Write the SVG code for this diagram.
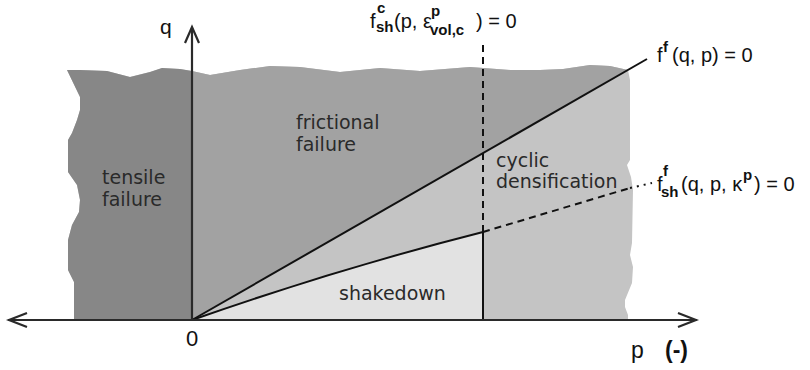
<svg xmlns="http://www.w3.org/2000/svg" width="810" height="370" viewBox="0 0 810 370">
<style>
.lbl{font-family:"DejaVu Sans","Liberation Sans",sans-serif;font-size:19px;fill:#2a2a2a}
.fm{font-family:"Liberation Sans","DejaVu Sans",sans-serif;font-size:20px;fill:#111}
.sb{font-size:15px;font-weight:bold}
.ln{stroke:#111;stroke-width:2;fill:none}
.ax{stroke:#2a2a2a;stroke-width:2.2;fill:none}
.dash{stroke:#111;stroke-width:2;fill:none;stroke-dasharray:7 5}
</style>
<defs>
<clipPath id="blob">
<path d="M67,70 L80,70 L107,71 L130,77 L150,72 L162,68 L180,69 L192,71 L210,75 L240,70 L270,66 L300,67 L340,72 L380,68 L420,71 L470,67 L510,70 L540,70 L563,69 L590,65 L610,66 L628,70 L630,80 L630,160 L627,165 L631,177 L633,190 L632,243 L630,255 L633,267 L632,283 L625,300 L625,307 L628,315 L628,320 L74,320 L74,282 L68,270 L68,240 L72,225 L79,212 L80,200 L77,185 L68,172 L68,140 L72,133 L77,120 L80,110 L80,97 Z"/>
</clipPath>
</defs>
<g id="regions" clip-path="url(#blob)">
<rect x="0" y="0" width="810" height="370" fill="#c4c4c4"/>
<polygon id="frictional-region" points="192,320 700,28 700,0 192,0" fill="#a2a2a2"/>
<rect id="tensile-region" x="0" y="0" width="192" height="320" fill="#878787"/>
<path id="shakedown-region" d="M192,320 Q337,269 483,232 L483,320 Z" fill="#e2e2e2"/>
</g>
<g id="connectors">
<line class="ln" x1="192" y1="320" x2="647" y2="59"/>
<path class="ln" d="M192,320 Q337,269 483,232"/>
<line class="dash" x1="483" y1="232" x2="630" y2="188"/>
<line class="ln" x1="630" y1="188" x2="652" y2="183" stroke-dasharray="2 5"/>
<line class="ln" x1="483" y1="320" x2="483" y2="232"/>
<line class="dash" x1="483" y1="232" x2="483" y2="42"/>
<line class="ax" x1="192" y1="320" x2="192" y2="28"/>
<polyline class="ax" points="185,43 192,27 199,43"/>
<line class="ax" x1="8" y1="320" x2="697" y2="320"/>
<polyline class="ax" points="27,313 9,320 27,327"/>
<polyline class="ax" points="678,313 696,320 678,327"/>
</g>
<g id="tensile"><text class="lbl" x="102" y="184">tensile</text><text class="lbl" x="102" y="206">failure</text></g>
<g id="frictional"><text class="lbl" x="296" y="129">frictional</text><text class="lbl" x="296" y="151">failure</text></g>
<g id="cyclic"><text class="lbl" x="496" y="167">cyclic</text><text class="lbl" x="496" y="188">densification</text></g>
<g id="shakedown"><text class="lbl" x="339" y="300">shakedown</text></g>
<g id="axis-labels">
<text class="fm" x="160" y="34" style="font-size:21px">q</text>
<text class="fm" x="192" y="346" text-anchor="middle" style="font-size:22px">0</text>
<text class="fm" x="631" y="358" style="font-size:23px">p</text>
<text class="fm" x="665" y="358" style="font-size:23px;font-weight:bold">(-)</text>
</g>
<g id="f-sh-c">
<text class="fm"><tspan x="370" y="28">f</tspan><tspan class="sb" x="377" y="13">c</tspan><tspan class="sb" x="376" y="32">sh</tspan><tspan x="394" y="28">(p, ε</tspan><tspan class="sb" x="431" y="16">p</tspan><tspan class="sb" x="430" y="35">vol,c</tspan><tspan x="476" y="28">) = 0</tspan></text>
</g>
<g id="f-f">
<text class="fm"><tspan x="657" y="62">f</tspan><tspan class="sb" x="663" y="52">f</tspan><tspan x="672" y="62">(q, p) = 0</tspan></text>
</g>
<g id="f-sh-f">
<text class="fm"><tspan x="657" y="191">f</tspan><tspan class="sb" x="663" y="176">f</tspan><tspan class="sb" x="661" y="197">sh</tspan><tspan x="681" y="191">(q, p, κ</tspan><tspan class="sb" x="743" y="180">p</tspan><tspan x="754" y="191">) = 0</tspan></text>
</g>
</svg>
